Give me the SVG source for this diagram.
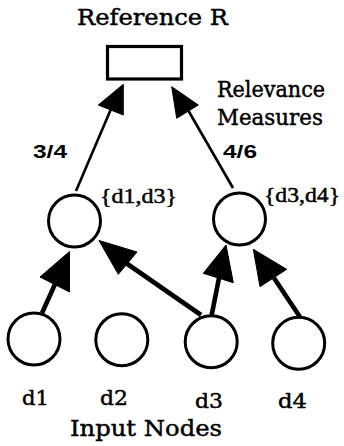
<svg xmlns="http://www.w3.org/2000/svg" width="344" height="446" viewBox="0 0 344 446">
<style>
.bg{fill:#fff}
.box{fill:#fff;stroke:#000;stroke-width:3.2}
.node{fill:#fff;stroke:#000;stroke-width:3}
.thin{stroke:#000;stroke-width:2.6;fill:none;stroke-linecap:butt}
.thick{stroke:#000;stroke-width:4.6;fill:none;stroke-linecap:butt}
.head{fill:#000;stroke:#000;stroke-width:1;stroke-linejoin:round}
.t{font-family:"DejaVu Serif","Liberation Serif",serif;font-size:21.5px;fill:#000;stroke:#000;stroke-width:0.45}
.s{font-family:"DejaVu Serif","Liberation Serif",serif;font-size:20.5px;fill:#000;stroke:#000;stroke-width:0.45}
.b{font-family:"Liberation Serif","DejaVu Serif",serif;font-size:22px;fill:#000;stroke:#000;stroke-width:0.5}
.f{font-family:"Liberation Sans",Arial,sans-serif;font-weight:bold;font-size:19px;fill:#000}
</style>
<rect class="bg" width="344" height="446"/>
<g id="reference">
<text class="t" x="77" y="25" textLength="151" lengthAdjust="spacingAndGlyphs">Reference R</text>
<rect class="box" x="107.5" y="46.5" width="74" height="32.5"/>
</g>
<g id="relevance-label">
<text class="t" x="217" y="97" textLength="108" lengthAdjust="spacingAndGlyphs">Relevance</text>
<text class="t" x="217" y="125" textLength="106" lengthAdjust="spacingAndGlyphs">Measures</text>
</g>
<g id="mid-left">
<circle class="node" cx="74.5" cy="221" r="26"/>
<text class="b" x="100" y="203" textLength="77" lengthAdjust="spacingAndGlyphs">{d1,d3}</text>
</g>
<g id="mid-right">
<circle class="node" cx="239.5" cy="219" r="26"/>
<text class="b" x="264" y="202" textLength="76" lengthAdjust="spacingAndGlyphs">{d3,d4}</text>
</g>
<g id="d1">
<circle class="node" cx="34" cy="339" r="26"/>
<text class="s" x="22" y="405" textLength="27" lengthAdjust="spacingAndGlyphs">d1</text>
</g>
<g id="d2">
<circle class="node" cx="121.8" cy="339.7" r="26"/>
<text class="s" x="100" y="405" textLength="28" lengthAdjust="spacingAndGlyphs">d2</text>
</g>
<g id="d3">
<circle class="node" cx="211.2" cy="341.7" r="26"/>
<text class="s" x="195" y="408" textLength="28" lengthAdjust="spacingAndGlyphs">d3</text>
</g>
<g id="d4">
<circle class="node" cx="298.7" cy="343.3" r="26"/>
<text class="s" x="278" y="408" textLength="29" lengthAdjust="spacingAndGlyphs">d4</text>
</g>
<g id="input-label">
<text class="t" x="70" y="436" textLength="152" lengthAdjust="spacingAndGlyphs">Input Nodes</text>
</g>
<g id="connectors">
<line class="thin" x1="76" y1="191" x2="111" y2="109"/>
<polygon class="head" points="123.3,84.3 98.3,105 123.3,115"/>
<text class="f" x="33" y="158" textLength="34" lengthAdjust="spacingAndGlyphs">3/4</text>
<line class="thin" x1="233" y1="188" x2="188" y2="110"/>
<polygon class="head" points="171.7,86.7 176.7,118.3 198.3,105"/>
<text class="f" x="223" y="158" textLength="34" lengthAdjust="spacingAndGlyphs">4/6</text>
<line class="thick" x1="42" y1="313" x2="56" y2="282"/>
<polygon class="head" points="69.5,251.5 40,277 69.5,292"/>
<line class="thick" x1="201" y1="315" x2="126" y2="263"/>
<polygon class="head" points="99,240.5 137,252 118.3,274.3"/>
<line class="thick" x1="211.7" y1="315" x2="219" y2="278"/>
<polygon class="head" points="226,245 203.3,273.3 233.3,282.7"/>
<line class="thick" x1="300" y1="317" x2="274" y2="278"/>
<polygon class="head" points="253.3,249.3 286.7,269.3 260,286.7"/>
</g>
</svg>
